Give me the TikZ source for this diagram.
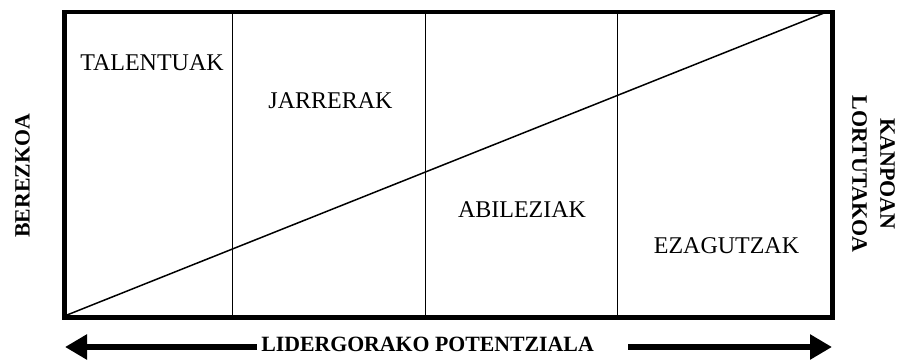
\documentclass[tikz,border=0pt]{standalone}
\usepackage{fontspec}
\setmainfont{Liberation Serif}
\usetikzlibrary{arrows.meta}
\begin{document}
\begin{tikzpicture}[x=1pt,y=-1pt,
  lbl/.style={font=\fontsize{24}{28}\selectfont, inner sep=0pt},
  blbl/.style={font=\fontsize{21.8}{26}\selectfont\bfseries, inner sep=0pt},
  frame/.style={line width=4.5pt},
  divider/.style={line width=0.9pt},
  diag/.style={line width=1.5pt},
  bigarrow/.style={line width=5.5pt, -{Triangle[length=22pt,width=24pt]}}
]
\useasboundingbox (0,0) rectangle (897,359);
% frame
\coordinate (tl) at (64.5,12);
\coordinate (br) at (832.5,317.5);
\draw[frame] (tl) rectangle (br);
% dividers
\foreach \x/\n in {232/a,425/b,617/c}{
  \coordinate (\n top) at (\x,12);
  \coordinate (\n bot) at (\x,317.5);
  \draw[divider] (\n top) -- (\n bot);
}
% diagonal
\coordinate (dstart) at (67,315);
\coordinate (dend) at (824,13);
\draw[diag] (dstart) -- (dend);
% labels
\node[lbl] (tal) at (152,62.5) {TALENTUAK};
\node[lbl] (jar) at (330.5,100.5) {JARRERAK};
\node[lbl] (abi) at (522,209.5) {ABILEZIAK};
\node[lbl] (eza) at (726.5,245.5) {EZAGUTZAK};
% side labels
\node[blbl, rotate=90] (ber) at (22.5,176) {BEREZKOA};
\node[blbl, rotate=-90, align=center, font=\fontsize{22}{28}\selectfont\bfseries] (kan) at (873.5,174) {KANPOAN\\LORTUTAKOA};
% bottom
\node[blbl] (lid) at (427.5,344.5) {LIDERGORAKO POTENTZIALA};
\coordinate (lstart) at (257,347);
\coordinate (lend) at (65,347);
\coordinate (rstart) at (628,347);
\coordinate (rend) at (832,347);
\draw[bigarrow] (lstart) -- (lend);
\draw[bigarrow] (rstart) -- (rend);
\end{tikzpicture}
\end{document}
